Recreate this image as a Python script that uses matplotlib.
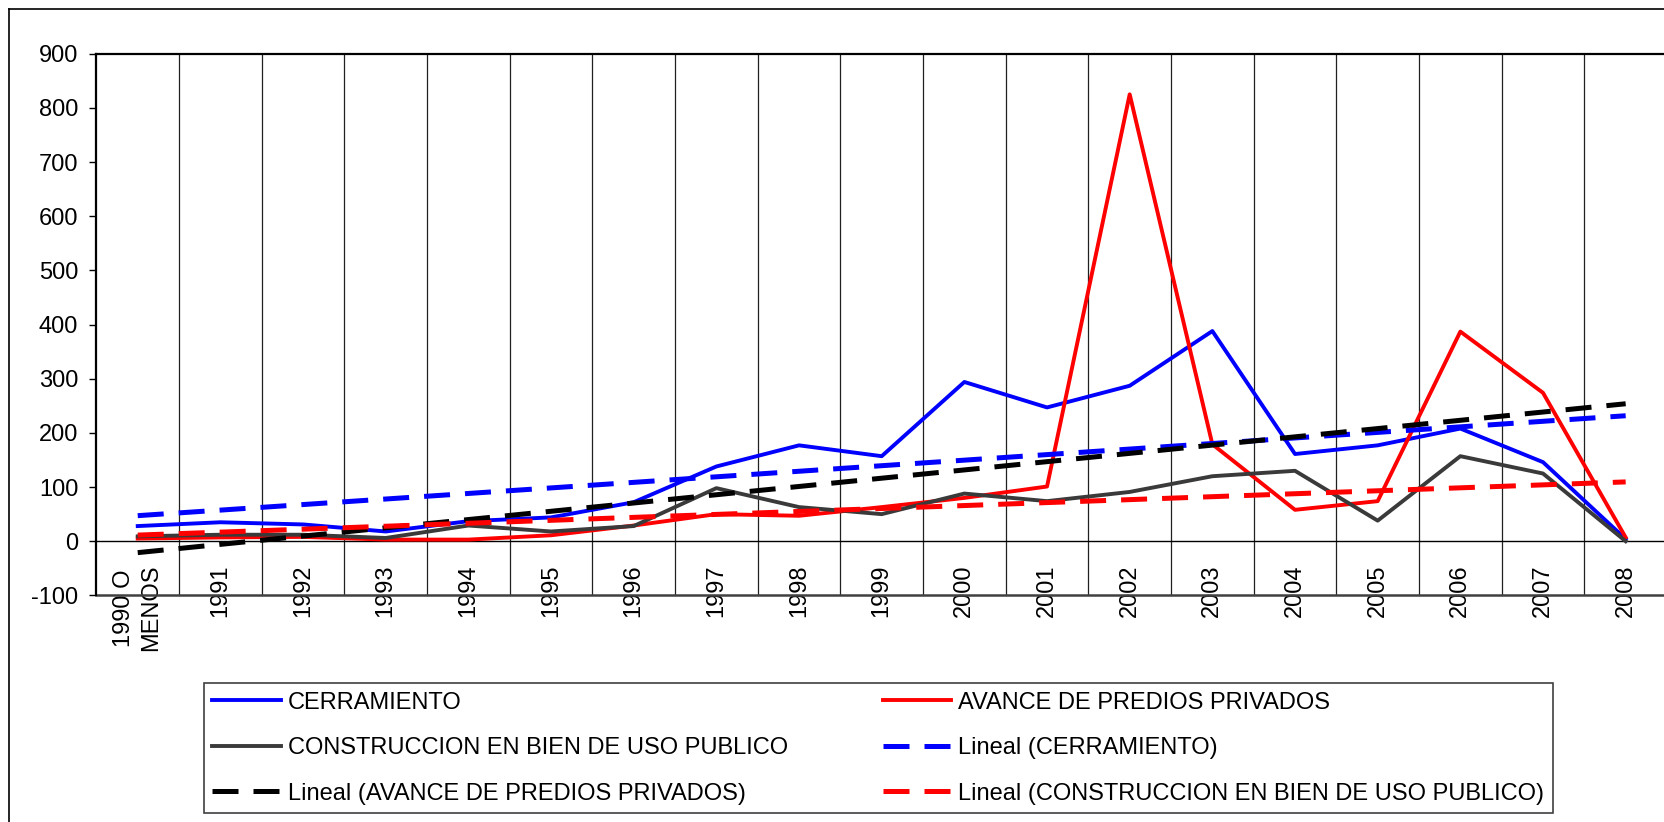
import numpy as np
import matplotlib
matplotlib.use("Agg")
import matplotlib.pyplot as plt
from matplotlib.lines import Line2D

plt.rcParams['font.family'] = ['Liberation Sans', 'DejaVu Sans']

categories = ["1990 O\nMENOS", "1991", "1992", "1993", "1994", "1995", "1996", "1997",
              "1998", "1999", "2000", "2001", "2002", "2003", "2004", "2005", "2006",
              "2007", "2008"]
cerramiento = [28, 35, 31, 18, 37, 44, 72, 138, 177, 157, 294, 247, 287, 388, 161, 177, 208, 146, 4]
avance = [5, 7, 8, 3, 3, 11, 29, 50, 47, 63, 80, 101, 825, 179, 58, 74, 387, 274, 7]
construccion = [9, 12, 12, 6, 29, 18, 28, 98, 63, 50, 88, 74, 91, 120, 130, 38, 157, 125, 0]
yticks = [-100, 0, 100, 200, 300, 400, 500, 600, 700, 800, 900]

W, H = 1665, 822
fig = plt.figure(figsize=(W / 100, H / 100), dpi=100)
ax = fig.add_axes([96.4 / W, 1 - 595.4 / H, (1667 - 96.4) / W, (595.4 - 53.7) / H])

x = np.arange(len(categories))
solid_lw = 2.8
dash_lw = 3.6
dash = (5.2, 3.0)

l_cer, = ax.plot(x, cerramiento, color='#0000ff', lw=solid_lw, zorder=3)
l_ava, = ax.plot(x, avance, color='#ff0000', lw=solid_lw, zorder=3)
l_con, = ax.plot(x, construccion, color='#3a3a3a', lw=solid_lw, zorder=3)

def trend(vals):
    p = np.polyfit(x, vals, 1)
    return np.polyval(p, x)

t_cer, = ax.plot(x, trend(cerramiento), color='#0000ff', lw=dash_lw, dashes=dash, zorder=4)
t_ava, = ax.plot(x, trend(avance), color='#000000', lw=dash_lw, dashes=dash, zorder=4)
t_con, = ax.plot(x, trend(construccion), color='#ff0000', lw=dash_lw, dashes=dash, zorder=4)

ax.set_xlim(-0.5, len(categories) - 0.5)
ax.set_ylim(-100, 900)
ax.set_yticks(yticks)
ax.set_yticklabels([str(v) for v in yticks])

# x axis crosses at 0
ax.spines['bottom'].set_position(('data', 0))
ax.spines['bottom'].set_linewidth(1.0)
ax.spines['bottom'].set_color('black')
ax.spines['right'].set_visible(False)
for s in ('left', 'top'):
    ax.spines[s].set_linewidth(1.6)
    ax.spines[s].set_color('black')
ax.axhline(-100, color='#404040', lw=1.8, zorder=2, clip_on=False)

ax.set_xticks(x)
ax.set_xticklabels(categories, rotation=90, va='top', ha='center',
                   multialignment='center', linespacing=1.3)
ax.set_xticks(np.arange(len(categories) - 1) + 0.5, minor=True)
ax.tick_params(axis='x', which='both', length=0, pad=17, labelsize=17)
ax.tick_params(axis='y', length=5, width=1, direction='out', pad=8, labelsize=17)
ax.grid(which='minor', axis='x', color='#202020', lw=0.9, zorder=1)
ax.set_axisbelow(True)

# outer chart frame
fig.add_artist(Line2D([9.3 / W, 9.3 / W], [1 - 9 / H, 0], transform=fig.transFigure,
                      color='black', lw=1.2))
fig.add_artist(Line2D([9.3 / W, 1], [1 - 9 / H, 1 - 9 / H], transform=fig.transFigure,
                      color='black', lw=1.2))

handles = [l_cer, l_con, t_ava, l_ava, t_cer, t_con]
labels = ["CERRAMIENTO", "CONSTRUCCION EN BIEN DE USO PUBLICO",
          "Lineal (AVANCE DE PREDIOS PRIVADOS)", "AVANCE DE PREDIOS PRIVADOS",
          "Lineal (CERRAMIENTO)", "Lineal (CONSTRUCCION EN BIEN DE USO PUBLICO)"]
leg = fig.legend(handles, labels, loc='upper left',
                 bbox_to_anchor=(204 / W, 1 - 683 / H), bbox_transform=fig.transFigure,
                 ncol=2, fontsize=17, frameon=True, fancybox=False, shadow=False,
                 edgecolor='#404040', framealpha=1, borderpad=0.36, labelspacing=1.0,
                 handlelength=2.9, handletextpad=0.3, columnspacing=4.0, borderaxespad=0)
leg.get_frame().set_linewidth(1.2)

fig.savefig('out.png', dpi=100)
